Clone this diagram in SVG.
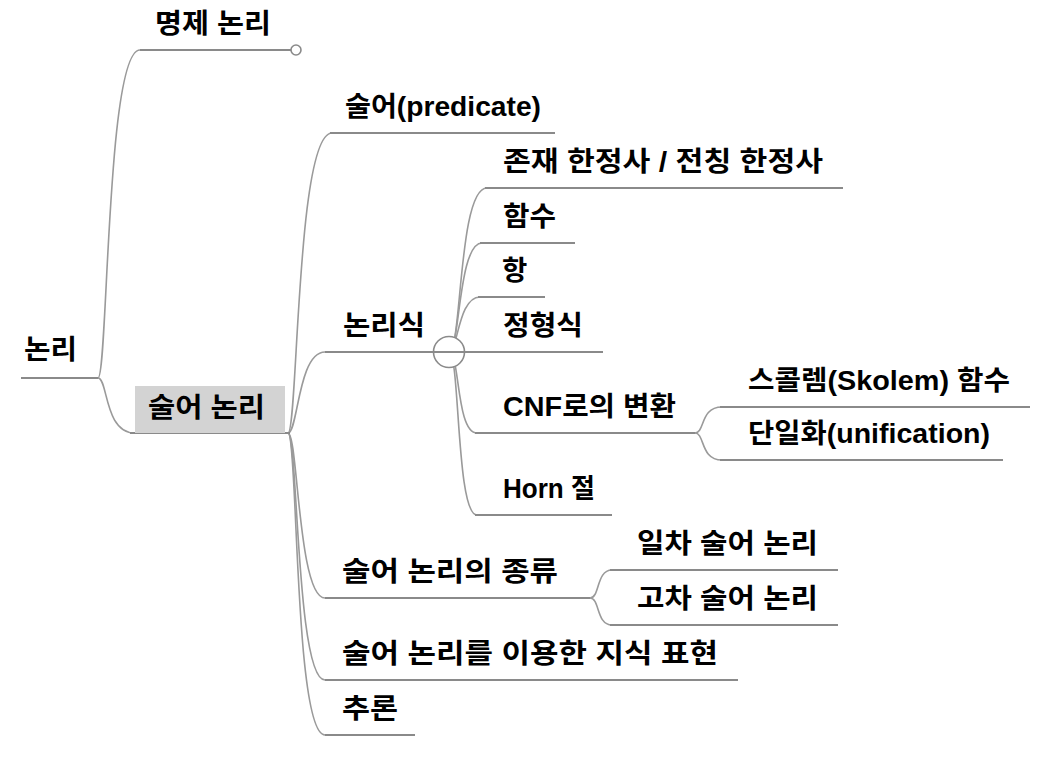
<svg xmlns="http://www.w3.org/2000/svg" width="1052" height="758" viewBox="0 0 1052 758">
<style>
.t{font-family:"Liberation Sans","Noto Sans CJK KR",sans-serif;font-weight:bold;font-size:27.5px;fill:#000}
.ln{stroke:#8a8a8a;stroke-width:2;fill:none}
.cv{stroke:#9a9a9a;stroke-width:1.6;fill:none}
</style>
<rect width="1052" height="758" fill="#fff"/>
<g id="connectors">
<path class="cv" d="M98,378 C108,378 106,50 140,50"/>
<path class="cv" d="M98,378 C108,378 104,433 135,433"/>
<path class="cv" d="M288,433 C298,433 296,133 332,133"/>
<path class="cv" d="M288,433 C298,433 298,352 325,352"/>
<path class="cv" d="M288,433 C298,433 298,598 325,598"/>
<path class="cv" d="M288,433 C298,433 296,680 325,680"/>
<path class="cv" d="M288,433 C298,433 294,735 325,735"/>
<path class="cv" d="M449,352 C462,352 458,188 487,188"/>
<path class="cv" d="M449,352 C460,352 458,243 482,243"/>
<path class="cv" d="M449,352 C458,352 458,297 480,297"/>
<path class="cv" d="M449,352 C460,352 456,433 477,433"/>
<path class="cv" d="M449,352 C460,352 456,515 477,515"/>
<path class="cv" d="M695,433 C705,433 700,407 722,407"/>
<path class="cv" d="M695,433 C705,433 700,460 722,460"/>
<path class="cv" d="M590,598 C600,598 596,570 612,570"/>
<path class="cv" d="M590,598 C600,598 596,625 612,625"/>
<line class="ln" x1="21" y1="378" x2="98" y2="378"/>
<line class="ln" x1="140" y1="50" x2="291" y2="50"/>
<line class="ln" x1="130" y1="433" x2="290" y2="433"/>
<line class="ln" x1="330" y1="133" x2="555" y2="133"/>
<line class="ln" x1="485" y1="188" x2="843" y2="188"/>
<line class="ln" x1="480" y1="243" x2="575" y2="243"/>
<line class="ln" x1="478" y1="297" x2="545" y2="297"/>
<line class="ln" x1="475" y1="433" x2="695" y2="433"/>
<line class="ln" x1="475" y1="515" x2="612" y2="515"/>
<line class="ln" x1="720" y1="407" x2="1030" y2="407"/>
<line class="ln" x1="720" y1="460" x2="1003" y2="460"/>
<line class="ln" x1="325" y1="598" x2="590" y2="598"/>
<line class="ln" x1="610" y1="570" x2="838" y2="570"/>
<line class="ln" x1="610" y1="625" x2="838" y2="625"/>
<line class="ln" x1="325" y1="680" x2="738" y2="680"/>
<line class="ln" x1="325" y1="735" x2="415" y2="735"/>
<circle cx="296" cy="50" r="5" fill="#fff" stroke="#8a8a8a" stroke-width="1.6"/>
<circle cx="449" cy="352" r="15.5" fill="#fff" stroke="#8a8a8a" stroke-width="1.6"/>
<line class="ln" x1="325" y1="352" x2="603" y2="352"/>
</g>
<g id="n-root"><text class="t" x="24" y="359" textLength="53" lengthAdjust="spacingAndGlyphs">논리</text></g>
<g id="n-prop"><text class="t" x="155" y="33" textLength="116" lengthAdjust="spacingAndGlyphs">명제 논리</text></g>
<g id="n-pred-logic">
<rect x="135" y="386" width="150" height="47" fill="#d3d3d3"/>
<text class="t" x="148" y="417" textLength="117" lengthAdjust="spacingAndGlyphs">술어 논리</text>
</g>
<g id="n-predicate"><text class="t" x="345" y="116" textLength="196" lengthAdjust="spacingAndGlyphs">술어(predicate)</text></g>
<g id="n-formula"><text class="t" x="343" y="335" textLength="82" lengthAdjust="spacingAndGlyphs">논리식</text></g>
<g id="n-quant"><text class="t" x="503" y="171" textLength="320" lengthAdjust="spacingAndGlyphs">존재 한정사 / 전칭 한정사</text></g>
<g id="n-func"><text class="t" x="503" y="226" textLength="53" lengthAdjust="spacingAndGlyphs">함수</text></g>
<g id="n-term"><text class="t" x="502" y="280">항</text></g>
<g id="n-wff"><text class="t" x="503" y="335" textLength="80" lengthAdjust="spacingAndGlyphs">정형식</text></g>
<g id="n-cnf"><text class="t" x="503" y="416" textLength="173" lengthAdjust="spacingAndGlyphs">CNF로의 변환</text></g>
<g id="n-skolem"><text class="t" x="748" y="390" textLength="262" lengthAdjust="spacingAndGlyphs">스콜렘(Skolem) 함수</text></g>
<g id="n-unif"><text class="t" x="748" y="443" textLength="242" lengthAdjust="spacingAndGlyphs">단일화(unification)</text></g>
<g id="n-horn"><text class="t" x="503" y="498" textLength="92" lengthAdjust="spacingAndGlyphs">Horn 절</text></g>
<g id="n-kinds"><text class="t" x="342" y="581" textLength="216" lengthAdjust="spacingAndGlyphs">술어 논리의 종류</text></g>
<g id="n-first"><text class="t" x="637" y="553" textLength="181" lengthAdjust="spacingAndGlyphs">일차 술어 논리</text></g>
<g id="n-higher"><text class="t" x="637" y="608" textLength="181" lengthAdjust="spacingAndGlyphs">고차 술어 논리</text></g>
<g id="n-knowledge"><text class="t" x="342" y="663" textLength="376" lengthAdjust="spacingAndGlyphs">술어 논리를 이용한 지식 표현</text></g>
<g id="n-infer"><text class="t" x="342" y="718" textLength="56" lengthAdjust="spacingAndGlyphs">추론</text></g>
</svg>
